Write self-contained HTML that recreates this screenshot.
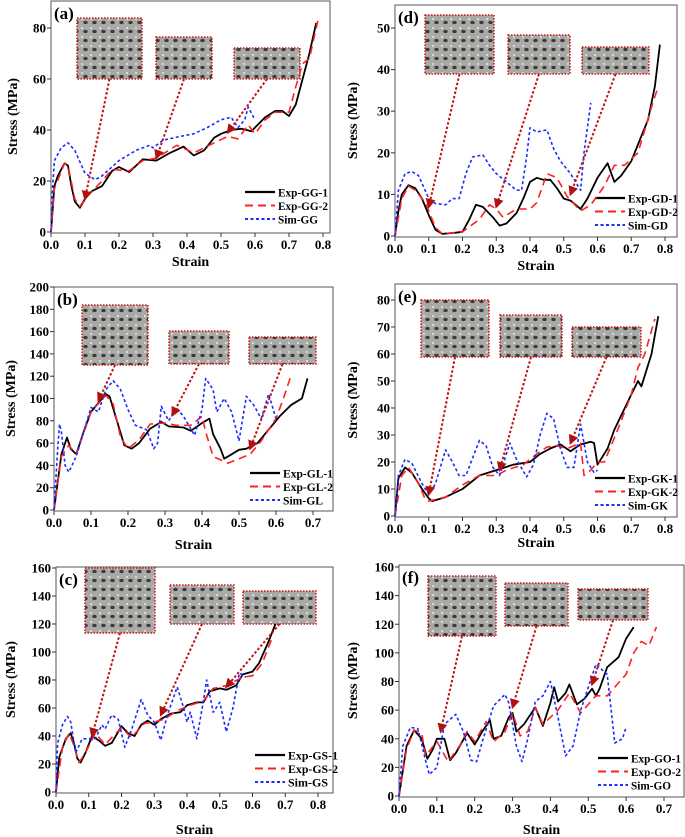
<!DOCTYPE html>
<html><head><meta charset="utf-8"><style>
html,body{margin:0;padding:0;background:#fff;}
svg{display:block;}
svg text{font-family:"Liberation Serif","DejaVu Serif",serif;font-weight:bold;}
</style></head><body>
<svg id="fig" width="685" height="837" viewBox="0 0 685 837" xmlns="http://www.w3.org/2000/svg">
<defs>
<pattern id="tex" width="9" height="9" patternUnits="userSpaceOnUse">
<rect width="9" height="9" fill="#a9a9a6"/>
<ellipse cx="4.5" cy="4.5" rx="2.2" ry="1.6" fill="#3a3a3a"/>
<rect x="0" y="0" width="2" height="2" fill="#d8d8d4"/>
</pattern>
<marker id="ah" viewBox="0 0 10 10" refX="8" refY="5" markerWidth="5" markerHeight="5" orient="auto">
<path d="M0,0 L10,5 L0,10 z" fill="#b01010"/>
</marker>
</defs>
</svg>
<script>
// ---- Panel (a) GG ----
const ggExp1=[[0,0],[0.01,18],[0.02,22],[0.04,27],[0.05,26],[0.06,18],[0.07,12],[0.085,9.5],[0.1,13],[0.12,16],[0.15,18],[0.18,24],[0.2,25.5],[0.23,23.5],[0.27,28.5],[0.31,28],[0.35,31],[0.39,33.5],[0.42,30],[0.45,32],[0.48,37],[0.5,38.5],[0.53,40],[0.56,40.5],[0.59,39.5],[0.6,41],[0.63,45],[0.66,47.5],[0.68,47.5],[0.7,45.5],[0.72,50],[0.74,60],[0.76,70],[0.78,82]];
const ggExp2=[[0,0],[0.01,17],[0.04,27],[0.05,26],[0.07,13],[0.085,10],[0.1,13],[0.15,20],[0.18,24.5],[0.23,24],[0.27,28],[0.31,29],[0.37,34],[0.42,31],[0.48,35],[0.52,37.5],[0.55,36.5],[0.58,42],[0.6,38.5],[0.63,44],[0.66,47],[0.7,47],[0.72,57],[0.74,66],[0.76,68],[0.785,83]];
const ggSim=[[0,0],[0.005,18],[0.01,28],[0.03,33],[0.05,35],[0.07,32],[0.1,23],[0.13,20.5],[0.15,22],[0.2,28],[0.25,32],[0.29,34],[0.3,33],[0.33,36],[0.38,37.5],[0.42,38.5],[0.46,41],[0.5,44],[0.53,45],[0.55,41],[0.57,44],[0.58,49],[0.6,44]];
// ---- Panel (d) GD ----
const gdExp1=[[0,0],[0.01,6],[0.02,10],[0.04,12.2],[0.06,11.5],[0.08,9],[0.1,5],[0.12,1.5],[0.14,0.5],[0.18,0.8],[0.2,1],[0.22,4],[0.24,7.5],[0.26,7],[0.29,4.5],[0.31,2.5],[0.33,3],[0.36,5.5],[0.38,9],[0.4,13],[0.42,14],[0.44,13.5],[0.46,13.5],[0.48,11.5],[0.5,9],[0.52,8.5],[0.55,6.5],[0.57,9],[0.6,14],[0.63,17.5],[0.65,13],[0.67,14.5],[0.7,18],[0.72,22],[0.75,28],[0.77,36],[0.785,46]];
const gdExp2=[[0,0],[0.02,9],[0.04,12],[0.06,11],[0.09,8],[0.12,2],[0.14,0.5],[0.2,1],[0.25,4],[0.28,7.5],[0.3,6.5],[0.32,4.5],[0.36,6.5],[0.4,6.5],[0.42,8],[0.45,15],[0.48,14],[0.51,9.5],[0.55,6],[0.58,7.5],[0.62,12],[0.65,17],[0.68,17],[0.72,20],[0.76,31],[0.78,36]];
const gdSim=[[0,0],[0.01,11],[0.03,15],[0.05,15.5],[0.07,14.5],[0.1,9],[0.12,7.8],[0.15,7.5],[0.17,9],[0.19,9],[0.21,15],[0.23,19],[0.26,19.5],[0.28,17],[0.3,15],[0.33,13],[0.36,11],[0.375,11],[0.39,19],[0.4,26],[0.42,25],[0.45,25.5],[0.47,21],[0.49,18],[0.52,15],[0.55,11],[0.56,20],[0.58,32]];
// ---- Panel (b) GL ----
const glExp1=[[0,0],[0.02,50],[0.035,65],[0.045,55],[0.06,50],[0.08,70],[0.1,88],[0.12,96],[0.14,104],[0.15,102],[0.17,80],[0.19,58],[0.21,55],[0.23,60],[0.26,73],[0.29,79],[0.31,75],[0.35,74],[0.37,71],[0.4,78],[0.41,80],[0.42,82],[0.43,68],[0.45,55],[0.46,46],[0.48,50],[0.5,54],[0.52,55],[0.55,60],[0.58,72],[0.61,84],[0.64,94],[0.66,98],[0.67,100],[0.685,118]];
const glExp2=[[0,0],[0.02,48],[0.04,58],[0.06,50],[0.1,88],[0.14,103],[0.16,95],[0.18,65],[0.2,55],[0.23,63],[0.26,77],[0.3,78],[0.33,76],[0.37,76],[0.4,84],[0.41,70],[0.43,48],[0.47,42],[0.5,46],[0.53,50],[0.56,62],[0.6,82],[0.62,100],[0.64,120]];
const glSim=[[0,0],[0.01,55],[0.015,77],[0.02,70],[0.03,40],[0.04,34],[0.06,48],[0.08,70],[0.1,92],[0.12,88],[0.14,108],[0.16,116],[0.18,108],[0.2,90],[0.22,76],[0.25,72],[0.27,55],[0.28,60],[0.29,93],[0.31,80],[0.33,92],[0.35,84],[0.38,67],[0.4,90],[0.41,118],[0.43,108],[0.44,88],[0.46,100],[0.48,88],[0.5,62],[0.52,102],[0.54,94],[0.56,82],[0.58,104],[0.6,82]];
// ---- Panel (e) GK ----
const gkExp1=[[0,0],[0.01,14],[0.03,18],[0.05,16],[0.08,10],[0.1,6.5],[0.11,5.5],[0.15,7],[0.2,10],[0.25,15],[0.3,17],[0.35,19],[0.4,20],[0.43,23],[0.46,25],[0.49,26.5],[0.52,24],[0.55,26.5],[0.58,27.5],[0.59,27],[0.6,19],[0.63,25],[0.65,32],[0.7,45],[0.72,50],[0.73,48],[0.76,60],[0.78,74]];
const gkExp2=[[0,0],[0.02,15],[0.04,18],[0.07,12],[0.09,6],[0.1,5.5],[0.15,7],[0.2,11.5],[0.25,15],[0.3,15],[0.33,17],[0.38,19],[0.42,23],[0.45,25.5],[0.48,26],[0.51,25],[0.55,27],[0.56,15],[0.58,17],[0.6,20],[0.62,20],[0.66,32],[0.7,45],[0.72,55],[0.74,60],[0.77,73]];
const gkSim=[[0,0],[0.01,15],[0.03,21],[0.05,19.5],[0.08,12],[0.1,8],[0.12,12],[0.15,24.5],[0.17,20],[0.19,15],[0.21,15],[0.25,28],[0.27,26],[0.29,18],[0.31,15],[0.34,27],[0.36,21],[0.39,14.5],[0.41,19],[0.43,30],[0.45,38],[0.47,36],[0.49,25],[0.51,18],[0.53,18],[0.55,34],[0.57,20],[0.59,16],[0.6,17]];
// ---- Panel (c) GS ----
const gsExp1=[[0,0],[0.01,25],[0.03,38],[0.045,42],[0.055,35],[0.065,24],[0.075,21],[0.09,28],[0.11,40],[0.13,37],[0.15,33],[0.17,35],[0.2,47],[0.22,42],[0.24,40],[0.26,48],[0.28,51],[0.3,48],[0.32,52],[0.35,56],[0.38,57],[0.4,62],[0.43,64],[0.45,64],[0.47,72],[0.5,74],[0.52,73],[0.55,76],[0.57,84],[0.6,86],[0.62,92],[0.65,108],[0.67,120]];
const gsExp2=[[0,0],[0.02,32],[0.04,42],[0.055,33],[0.07,21],[0.09,28],[0.12,42],[0.15,34],[0.2,46],[0.23,39],[0.27,49],[0.3,50],[0.33,52],[0.37,58],[0.41,62],[0.45,65],[0.48,74],[0.52,76],[0.57,82],[0.6,83],[0.63,92],[0.66,110]];
const gsSim=[[0,0],[0.005,35],[0.02,48],[0.035,54],[0.045,50],[0.06,28],[0.08,38],[0.1,38],[0.12,38],[0.14,48],[0.15,45],[0.17,55],[0.19,52],[0.21,32],[0.23,44],[0.26,66],[0.28,55],[0.3,50],[0.32,37],[0.34,55],[0.37,75],[0.39,60],[0.4,50],[0.41,57],[0.43,38],[0.45,65],[0.46,80],[0.48,57],[0.5,64],[0.52,43],[0.54,60],[0.56,85],[0.58,82]];
// ---- Panel (f) GO ----
const goExp1=[[0,0],[0.02,35],[0.04,46],[0.06,40],[0.075,26],[0.09,33],[0.1,40],[0.12,40],[0.135,25],[0.15,30],[0.18,44],[0.2,36],[0.22,45],[0.24,53],[0.25,40],[0.27,42],[0.29,55],[0.3,58],[0.31,45],[0.33,50],[0.35,58],[0.36,62],[0.38,49],[0.4,65],[0.41,76],[0.42,66],[0.44,72],[0.45,78],[0.47,64],[0.49,68],[0.51,75],[0.52,70],[0.53,75],[0.55,90],[0.58,97],[0.6,110],[0.62,118]];
const goExp2=[[0,0],[0.02,33],[0.04,46],[0.06,44],[0.07,28],[0.1,38],[0.13,24],[0.16,35],[0.18,45],[0.2,38],[0.23,52],[0.25,38],[0.28,45],[0.3,58],[0.32,42],[0.34,45],[0.36,62],[0.38,50],[0.42,60],[0.45,72],[0.48,58],[0.52,70],[0.55,70],[0.6,85],[0.62,100],[0.64,108],[0.66,105],[0.68,118]];
const goSim=[[0,0],[0.01,35],[0.03,48],[0.05,47],[0.07,25],[0.08,15],[0.1,20],[0.12,50],[0.15,57],[0.17,45],[0.19,25],[0.205,24],[0.22,38],[0.25,63],[0.28,71],[0.29,65],[0.31,35],[0.325,24],[0.34,40],[0.36,66],[0.38,70],[0.4,80],[0.42,55],[0.44,28],[0.46,35],[0.48,60],[0.52,92],[0.55,85],[0.57,37],[0.59,40],[0.6,48]];

const yTicksA=[0,20,40,60,80];
const yTicksD=[0,10,20,30,40,50];
const yTicksB=[0,20,40,60,80,100,120,140,160,180,200];
const yTicksE=[0,10,20,30,40,50,60,70,80];
const yTicksC=[0,20,40,60,80,100,120,140,160];
const xTicks8=[0,0.1,0.2,0.3,0.4,0.5,0.6,0.7,0.8];
const xTicks7=[0,0.1,0.2,0.3,0.4,0.5,0.6,0.7];
const arrowTargetsA=[[0.1,13],[0.31,29],[0.52,39]];
const arrowTargetsD=[[0.1,7],[0.3,7],[0.52,10]];
const arrowTargetsB=[[0.12,98],[0.32,85],[0.53,55]];
const arrowTargetsE=[[0.1,8],[0.31,17],[0.52,27]];
const arrowTargetsC=[[0.11,40],[0.32,55],[0.52,75]];
const arrowTargetsF=[[0.11,45],[0.3,62],[0.51,78]];

const NS="http://www.w3.org/2000/svg";
const svg=document.getElementById('fig');
const FF='"Liberation Serif","DejaVu Serif",serif';
function mk(tag,attrs,parent){const e=document.createElementNS(NS,tag);for(const k in attrs)e.setAttribute(k,attrs[k]);if(tag==='text'){e.setAttribute('font-family',FF);e.setAttribute('font-weight','bold');}(parent||svg).appendChild(e);return e;}

const panels=[
 {id:'a',name:'GG',x0:51,x1:323,xmax:0.8,y0:232,y1:28,ymax:80,top:1,right:330,yt:yTicksA,xt:xTicks8,s:[ggExp1,ggExp2,ggSim],lx:245,ly:192,sl:266,insets:[[77,18,65,61],[156,37,56,42],[234,48,66,31]],tg:arrowTargetsA,ylab:12},
 {id:'d',name:'GD',x0:395,x1:665,xmax:0.8,y0:236,y1:28,ymax:50,top:5,right:677,yt:yTicksD,xt:xTicks8,s:[gdExp1,gdExp2,gdSim],lx:595,ly:198,sl:270,insets:[[425,15,69,59],[508,35,62,39],[582,47,67,27]],tg:arrowTargetsD,ylab:352},
 {id:'b',name:'GL',x0:54,x1:313,xmax:0.7,y0:510,y1:287,ymax:200,top:287,right:333,yt:yTicksB,xt:xTicks7,s:[glExp1,glExp2,glSim],lx:250,ly:473,sl:549,insets:[[82,305,66,60],[169,331,60,33],[249,337,67,27]],tg:arrowTargetsB,ylab:10},
 {id:'e',name:'GK',x0:395,x1:665,xmax:0.8,y0:516,y1:300,ymax:80,top:284,right:677,yt:yTicksE,xt:xTicks8,s:[gkExp1,gkExp2,gkSim],lx:595,ly:478,sl:547,insets:[[421,300,68,57],[500,315,62,42],[572,327,69,30]],tg:arrowTargetsE,ylab:352},
 {id:'c',name:'GS',x0:56,x1:318,xmax:0.8,y0:792,y1:568,ymax:160,top:567,right:333,yt:yTicksC,xt:xTicks8,s:[gsExp1,gsExp2,gsSim],lx:255,ly:755,sl:834,insets:[[85,568,70,65],[170,585,64,39],[243,591,73,33]],tg:arrowTargetsC,ylab:10},
 {id:'f',name:'GO',x0:399,x1:664,xmax:0.7,y0:796,y1:567,ymax:160,top:565,right:684,yt:yTicksC,xt:xTicks7,s:[goExp1,goExp2,goSim],lx:598,ly:758,sl:834,insets:[[428,576,68,60],[505,583,63,43],[578,589,70,31]],tg:arrowTargetsF,ylab:352}
];
const styles=[{c:'#000',d:'',w:1.8},{c:'#ff2020',d:'8,5',w:1.6},{c:'#1a2cff',d:'3,2.5',w:1.6}];

panels.forEach(p=>{
 const g=mk('g',{});
 
 
 const X=v=>p.x0+(p.x1-p.x0)*v/p.xmax;
 const Y=v=>p.y0-(p.y0-p.y1)*v/p.ymax;
 const fr=mk('rect',{x:p.x0,y:p.top,width:p.right-p.x0,height:p.y0+1-p.top,fill:'none',stroke:'#555','stroke-width':1},g);
 
 
 p.yt.forEach(v=>{
  mk('line',{x1:p.x0-4,x2:p.x0,y1:Y(v),y2:Y(v),stroke:'#333'},g);
  const t=mk('text',{x:p.x0-5,y:Y(v)+4.5,'text-anchor':'end','font-size':13},g);t.textContent=v;
  
  
 });
 p.xt.forEach(v=>{
  mk('line',{x1:X(v),x2:X(v),y1:p.y0+1,y2:p.y0+5,stroke:'#333'},g);
  const t=mk('text',{x:X(v),y:p.y0+17,'text-anchor':'middle','font-size':13},g);t.textContent=v.toFixed(1);
  
  
 });
 const xl=mk('text',{x:(p.x0+p.right)/2,y:p.sl,'text-anchor':'middle','font-size':14},g);xl.textContent='Strain';
 
 
 const ym=(p.top+p.y0)/2;
 const yl=mk('text',{x:p.ylab,y:ym,'text-anchor':'middle','font-size':14,transform:`rotate(-90 ${p.ylab} ${ym})`,dy:5},g);yl.textContent='Stress (MPa)';
 
 
 const pl=mk('text',{x:p.x0+3,y:p.top+18,'font-size':17},g);pl.textContent='('+p.id+')';
 
 
 p.insets.forEach((r,i)=>{
  const im=mk('rect',{x:r[0],y:r[1],width:r[2],height:r[3],fill:'url(#tex)',stroke:'#d01818','stroke-width':1.5,'stroke-dasharray':'1.5,1.5'},g);
  
  
 });
 const names=['Exp-'+p.name+'-1','Exp-'+p.name+'-2','Sim-'+p.name];
 p.s.forEach((data,i)=>{
  const st=styles[i];
  const path=mk('path',{d:'M'+data.map(q=>X(q[0]).toFixed(1)+','+Y(q[1]).toFixed(1)).join('L'),fill:'none',stroke:st.c,'stroke-width':st.w,'stroke-dasharray':st.d,'stroke-linejoin':'round'},g);
  
  
  const ly=p.ly+i*13.5;
  const ll=mk('line',{x1:p.lx,x2:p.lx+30,y1:ly,y2:ly,stroke:st.c,'stroke-width':st.w+0.4,'stroke-dasharray':st.d},g);
  
  
  const lt=mk('text',{x:p.lx+33,y:ly+4.5,'font-size':12,textLength:(i<2?50:40),lengthAdjust:'spacingAndGlyphs'},g);lt.textContent=names[i];
  
  
 });
 p.tg.forEach((t,i)=>{
  const r=p.insets[i];
  const a=mk('line',{x1:r[0]+r[2]/2,y1:r[1]+r[3],x2:X(t[0]),y2:Y(t[1]),stroke:'#c01515','stroke-width':2,'stroke-dasharray':'2.5,2','marker-end':'url(#ah)'},g);
  
  
 });
});
</script>
</body></html>
